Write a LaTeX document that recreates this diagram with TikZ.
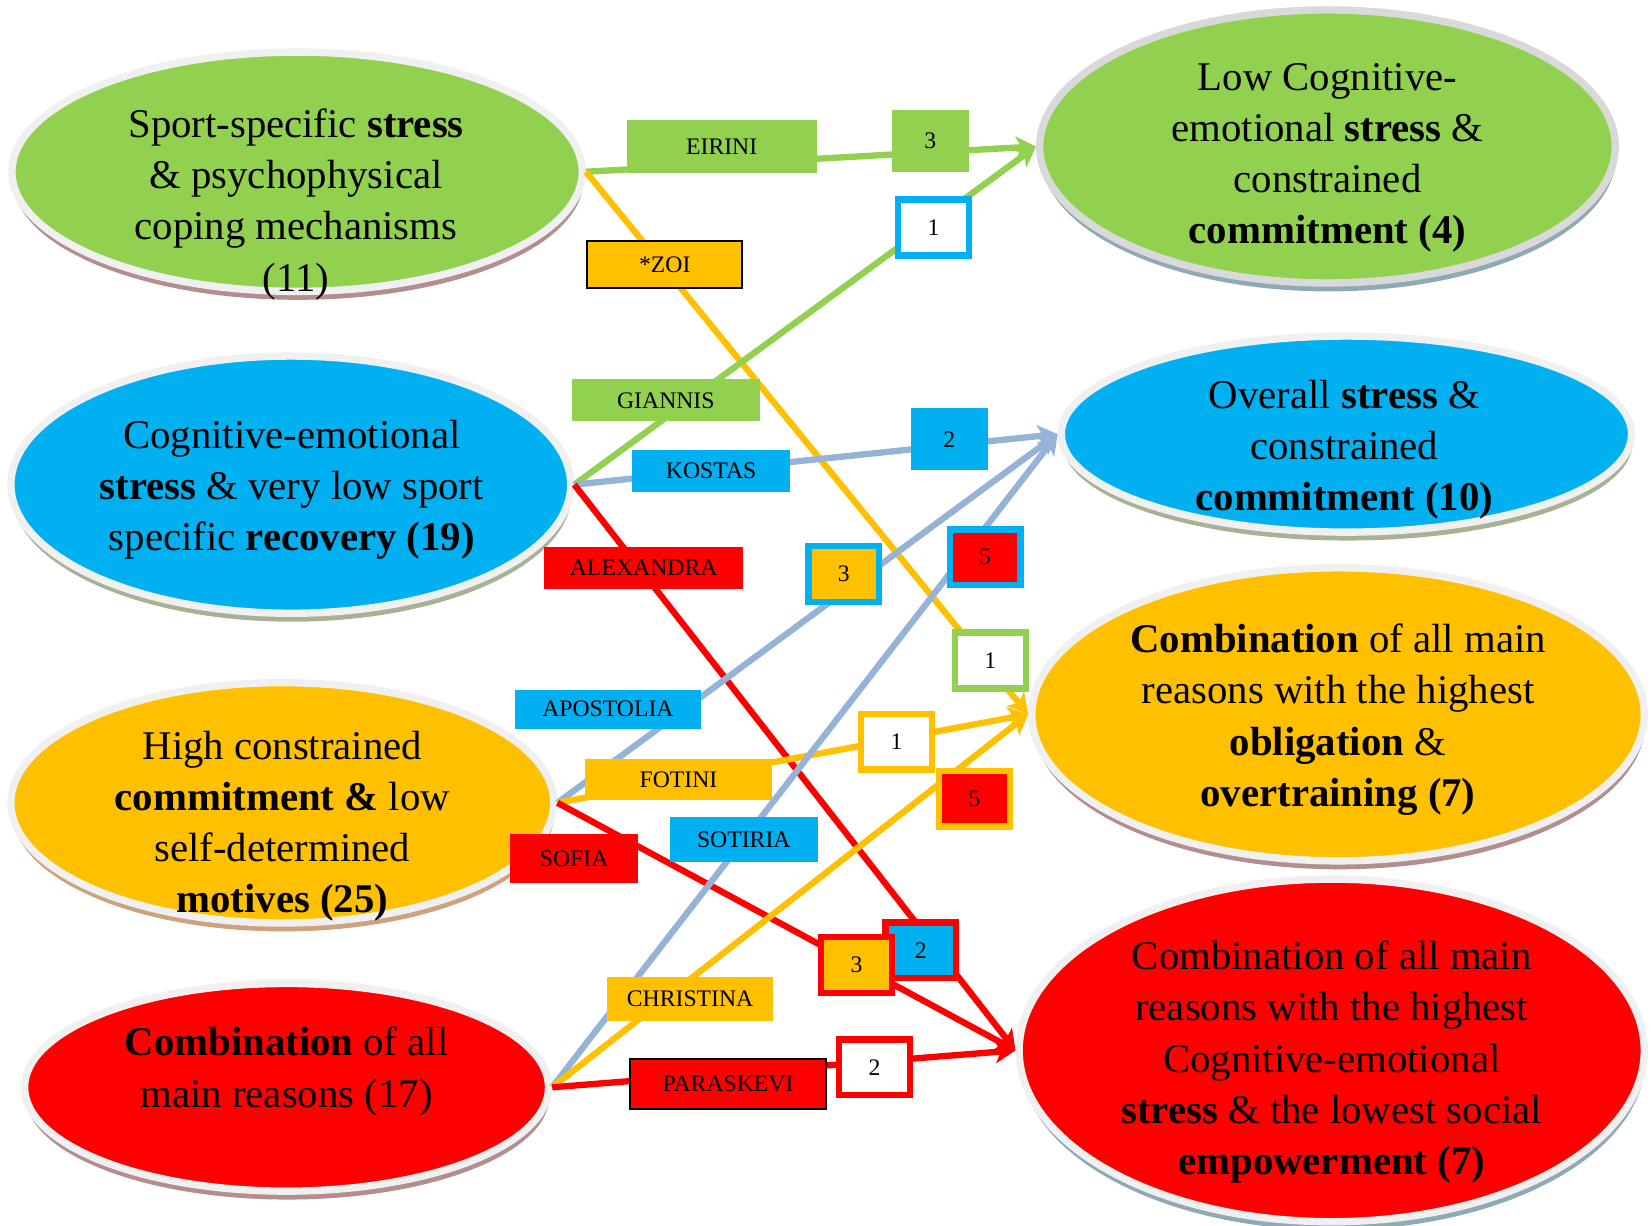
\documentclass[tikz,border=0pt]{standalone}
\usepackage{fontspec}
\setmainfont{Liberation Serif}
\usetikzlibrary{shapes.geometric,shadows,arrows.meta}

\definecolor{grn}{HTML}{92D050}
\definecolor{cyn}{HTML}{00B0F0}
\definecolor{org}{HTML}{FFC000}
\definecolor{rd}{HTML}{FF0000}
\definecolor{steel}{HTML}{95B3D7}
\definecolor{rimlight}{HTML}{F0F0F0}
\definecolor{rimdark}{HTML}{D9D9D9}
\definecolor{shpink}{HTML}{B48E8E}
\definecolor{sholive}{HTML}{A6B293}
\definecolor{shtan}{HTML}{CFA27E}
\definecolor{shblue}{HTML}{8FA9B6}

\begin{document}
\begin{tikzpicture}[x=0.01cm,y=-0.01cm,
  oval/.style 2 args={ellipse, inner sep=0pt, fill=#1, draw=rimlight, line width=0.07cm,
    drop shadow={shadow xshift=0.01cm, shadow yshift=-0.08cm, fill=#2, opacity=1}},
  txt/.style={align=center, inner sep=0pt, font=\fontsize{11}{13.8}\selectfont},
  link/.style={draw=#1, line width=0.06cm, -{Stealth[length=0.19cm,width=0.21cm,inset=0.05cm]}},
  tag/.style={fill=#1, inner sep=0pt, font=\fontsize{6.4}{7}\selectfont},
  cnt/.style 2 args={fill=#1, draw=#2, line width=0.06cm, minimum width=0.67cm,
    minimum height=0.53cm, inner sep=0pt, font=\fontsize{6.4}{7}\selectfont}]
  \useasboundingbox (0,0) rectangle (1568,1163);

  % clusters on the left
  \node[oval={grn}{shpink}, minimum width=5.41cm, minimum height=2.27cm] (sport) at (282,163) {};
  \node[oval={cyn}{sholive}, minimum width=5.31cm, minimum height=2.44cm] (cogn) at (276,460) {};
  \node[oval={org}{shtan}, minimum width=5.15cm, minimum height=2.28cm] (high) at (268,762) {};
  \node[oval={rd}{shpink}, minimum width=4.97cm, minimum height=1.97cm] (comb) at (272,1032) {};

  % clusters on the right
  \node[oval={grn}{shblue}, draw=rimdark, minimum width=5.46cm, minimum height=2.59cm] (lowcog) at (1260,139) {};
  \node[oval={cyn}{sholive}, minimum width=5.41cm, minimum height=1.86cm] (overall) at (1278,412) {};
  \node[oval={org}{shpink}, minimum width=5.81cm, minimum height=2.78cm] (oblig) at (1270,678) {};
  \node[oval={rd}{shblue}, minimum width=5.93cm, minimum height=3.25cm] (empow) at (1264,997) {};

  \node[txt] (sporttxt) at (281,194) {Sport-specific \textbf{stress}\\ \& psychophysical\\ coping mechanisms\\ (11)};
  \node[txt] (cogntxt) at (277,465) {Cognitive-emotional\\ \textbf{stress} \& very low sport\\ specific \textbf{recovery (19)}};
  \node[txt] (hightxt) at (268,784) {High constrained\\ \textbf{commitment \&} low\\ self-determined\\ \textbf{motives (25)}};
  \node[txt] (combtxt) at (272,1017) {\textbf{Combination} of all\\ main reasons (17)};
  \node[txt] (lowcogtxt) at (1260,150) {Low Cognitive-\\ emotional \textbf{stress} \&\\ constrained\\ \textbf{commitment (4)}};
  \node[txt] (overalltxt) at (1276,427) {Overall \textbf{stress} \&\\ constrained\\ \textbf{commitment (10)}};
  \node[txt] (obligtxt) at (1270,683) {\textbf{Combination} of all main\\ reasons with the highest\\ \textbf{obligation} \&\\ \textbf{overtraining (7)}};
  \node[txt] (empowtxt) at (1264,1008) {Combination of all main\\ reasons with the highest\\ Cognitive-emotional\\ \textbf{stress} \& the lowest social\\ \textbf{empowerment (7)}};

  \draw[link=grn] (sport.east) -- (lowcog.west);
  \draw[link=org] (sport.east) -- (oblig.west);
  \draw[link=grn] (cogn.east) -- (lowcog.west);
  \draw[link=steel] (cogn.east) -- (overall.west);
  \draw[link=rd] (cogn.east) -- (empow.west);
  \draw[link=steel] (high.east) -- (overall.west);
  \draw[link=org] (high.east) -- (oblig.west);
  \draw[link=rd] (high.east) -- (empow.west);
  \draw[link=steel] (comb.east) -- (overall.west);
  \draw[link=org] (comb.east) -- (oblig.west);
  \draw[link=rd] (comb.east) -- (empow.west);

  % athletes
  \node[tag=grn, minimum width=1.80cm, minimum height=0.50cm] (eirini) at (685,139) {EIRINI};
  \node[tag=org, draw=black, line width=0.02cm, minimum width=1.47cm, minimum height=0.44cm] (zoi) at (631,251) {*ZOI};
  \node[tag=grn, minimum width=1.79cm, minimum height=0.40cm] (giannis) at (632,380) {GIANNIS};
  \node[tag=cyn, minimum width=1.50cm, minimum height=0.40cm] (kostas) at (675,447) {KOSTAS};
  \node[tag=rd, minimum width=1.89cm, minimum height=0.40cm] (alexandra) at (611,539) {ALEXANDRA};
  \node[tag=cyn, minimum width=1.77cm, minimum height=0.37cm] (apostolia) at (577,673) {APOSTOLIA};
  \node[tag=org, minimum width=1.78cm, minimum height=0.39cm] (fotini) at (644,740) {FOTINI};
  \node[tag=rd, minimum width=1.21cm, minimum height=0.46cm] (sofia) at (545,815) {SOFIA};
  \node[tag=cyn, minimum width=1.40cm, minimum height=0.43cm] (sotiria) at (706,797) {SOTIRIA};
  \node[tag=org, minimum width=1.57cm, minimum height=0.42cm] (christina) at (655,948) {CHRISTINA};
  \node[tag=rd, draw=black, line width=0.02cm, minimum width=1.86cm, minimum height=0.47cm] (paraskevi) at (691,1029) {PARASKEVI};

  % counts
  \node[cnt={grn}{grn}] (c3a) at (883,134) {3};
  \node[cnt={white}{cyn}] (c1a) at (886,216) {1};
  \node[cnt={cyn}{cyn}] (c2a) at (901,417) {2};
  \node[cnt={org}{cyn}] (c3b) at (801,545) {3};
  \node[cnt={rd}{cyn}] (c5a) at (935,529) {5};
  \node[cnt={white}{grn}] (c1b) at (940,627) {1};
  \node[cnt={white}{org}] (c1c) at (851,704) {1};
  \node[cnt={rd}{org}] (c5b) at (925,758) {5};
  \node[cnt={cyn}{rd}] (c2b) at (874,902) {2};
  \node[cnt={org}{rd}] (c3c) at (813,916) {3};
  \node[cnt={white}{rd}] (c2c) at (830,1013) {2};
\end{tikzpicture}
\end{document}
